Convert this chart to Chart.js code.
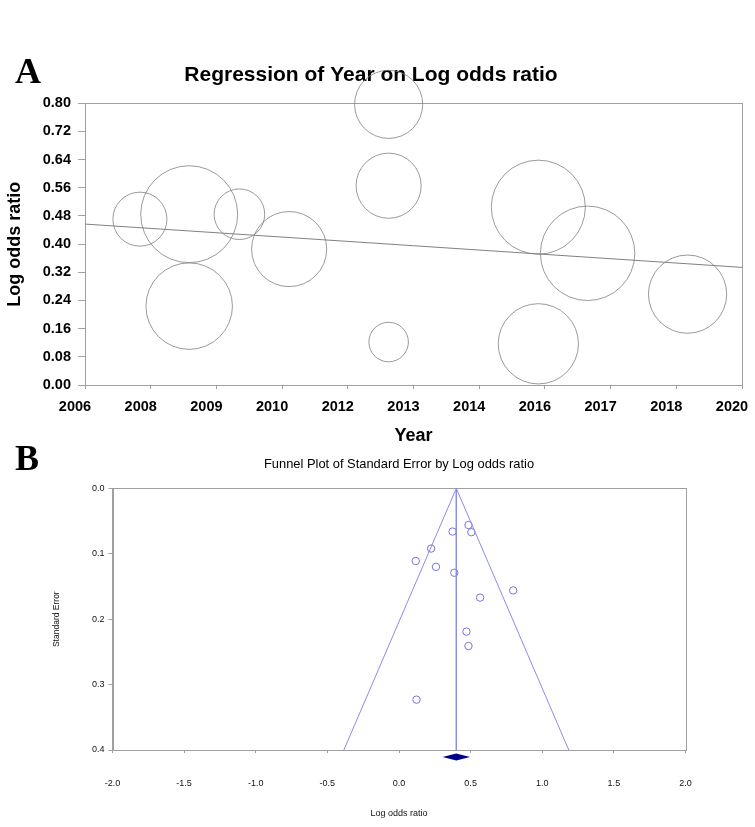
<!DOCTYPE html>
<html>
<head>
<meta charset="utf-8">
<script src="https://cdn.jsdelivr.net/npm/chart.js@4.4.1/dist/chart.umd.min.js"></script>
<style>
  body { margin: 0; background: #fff; overflow: hidden; }
  #wrap { position: relative; width: 755px; height: 827px; overflow: hidden; }
  canvas { position: absolute; left: 0; }
  #regChart { top: 0; }
  #funnelChart { top: 450px; }
  .panel {
    position: absolute; left: 15px;
    font: bold 36px "Liberation Serif", "Times New Roman", serif;
    color: #000;
  }
</style>
</head>
<body>
<div id="wrap">
  <canvas id="regChart" width="755" height="450"></canvas>
  <canvas id="funnelChart" width="798" height="377"></canvas>
  <div class="panel" style="top:50px">A</div>
  <div class="panel" style="top:437px">B</div>
</div>
<script>
// исследования (по порядку года)
const years   = [2007.17, 2008.22, 2008.22, 2009.29, 2010.35, 2012.47, 2012.47, 2012.47, 2015.66, 2015.66, 2016.71, 2018.84];
const logOR   = [0.471, 0.485, 0.224, 0.485, 0.386, 0.797, 0.566, 0.122, 0.505, 0.117, 0.374, 0.258];
const stdErr  = [0.219, 0.056, 0.092, 0.241, 0.129, 0.156, 0.167, 0.323, 0.067, 0.111, 0.066, 0.120];
const weights = [7.3, 23.5, 18.7, 6.4, 14.1, 11.6, 10.6, 3.9, 22.1, 16.1, 22.3, 15.3];

// регрессия и оси
const regX = [2006, 2020];
const regY = [0.457, 0.334];
const xTickLabels = ['2006', '2008', '2009', '2010', '2012', '2013', '2014', '2016', '2017', '2018', '2020'];
const yTicksA = [0, 0.08, 0.16, 0.24, 0.32, 0.40, 0.48, 0.56, 0.64, 0.72, 0.80];

// воронка
const pooled = 0.40;
const pooledCI = [0.304, 0.496];
const funnelX = [-0.385, 0.40, 1.185];
const funnelY = [0.4, 0, 0.4];
const xTicksB = [-2, -1.5, -1, -0.5, 0, 0.5, 1, 1.5, 2];
const yTicksB = [0, 0.1, 0.2, 0.3, 0.4];

const SANS = '"Liberation Sans", Arial, sans-serif';
const AXIS = '#a0a0a0';

const boxPlugin = {
  id: 'box',
  beforeDatasetsDraw(chart) {
    const { ctx, chartArea: a } = chart;
    ctx.save();
    ctx.strokeStyle = AXIS;
    ctx.lineWidth = 1;
    ctx.strokeRect(Math.round(a.left) + 0.5, Math.round(a.top) + 0.5,
                   Math.round(a.right - a.left), Math.round(a.bottom - a.top));
    ctx.restore();
  }
};

// A: регрессия
new Chart(document.getElementById('regChart'), {
  type: 'bubble',
  data: {
    datasets: [{
      data: years.map((x, i) => ({ x, y: logOR[i], r: Math.sqrt(weights[i]) * 10 })),
      borderColor: '#808080',
      borderWidth: 0.8,
      backgroundColor: 'rgba(0,0,0,0)',
      clip: false
    }, {
      type: 'line',
      data: regX.map((x, i) => ({ x, y: regY[i] })),
      borderColor: '#808080',
      borderWidth: 1,
      pointRadius: 0,
      fill: false
    }]
  },
  options: {
    responsive: false,
    animation: false,
    layout: { autoPadding: false, padding: { left: 0, right: 13, top: 0, bottom: 0 } },
    plugins: {
      legend: { display: false },
      tooltip: { enabled: false },
      title: {
        display: true,
        text: 'Regression of Year on Log odds ratio',
        color: '#000',
        font: { family: SANS, size: 21, weight: 'bold' },
        padding: { top: 62.4, bottom: 15.7 }
      }
    },
    scales: {
      x: {
        type: 'linear', min: 2006, max: 2020,
        afterBuildTicks: s => { s.ticks = xTickLabels.map((l, i) => ({ value: 2006 + i * 1.4 })); },
        afterFit: s => { s.height = 65; s.paddingLeft = 0; s.paddingRight = 0; },
        grid: { drawOnChartArea: false, tickLength: 4, color: AXIS },
        border: { color: AXIS },
        ticks: {
          callback: (v, i) => xTickLabels[i],
          color: '#000', padding: 9, maxRotation: 0, labelOffset: -10,
          font: { family: SANS, size: 14.5, weight: 'bold' }
        },
        title: {
          display: true, text: 'Year', color: '#000',
          font: { family: SANS, size: 18, weight: 'bold' },
          padding: { top: 0, bottom: 3.2 }
        }
      },
      y: {
        min: 0, max: 0.8,
        afterBuildTicks: s => { s.ticks = yTicksA.map(v => ({ value: v })); },
        afterFit: s => { s.width = 85; },
        grid: { drawOnChartArea: false, tickLength: 7, color: AXIS },
        border: { color: AXIS },
        ticks: {
          callback: v => v.toFixed(2),
          color: '#000', padding: 7,
          font: { family: SANS, size: 14.5, weight: 'bold' }
        },
        title: {
          display: true, text: 'Log odds ratio', color: '#000',
          font: { family: SANS, size: 18, weight: 'bold' },
          padding: { top: 4, bottom: 0 }
        }
      }
    }
  },
  plugins: [boxPlugin]
});

// B: воронка
const diamondPlugin = {
  id: 'diamond',
  afterDatasetsDraw(chart) {
    const { ctx, chartArea: a, scales: { x } } = chart;
    const cx = x.getPixelForValue(pooled);
    const l = x.getPixelForValue(pooledCI[0]);
    const r = x.getPixelForValue(pooledCI[1]);
    const cy = a.bottom + 7;
    ctx.save();
    ctx.fillStyle = '#00008b';
    ctx.beginPath();
    ctx.moveTo(l, cy);
    ctx.lineTo(cx, cy - 3.5);
    ctx.lineTo(r, cy);
    ctx.lineTo(cx, cy + 3.5);
    ctx.closePath();
    ctx.fill();
    ctx.restore();
  }
};

const FUNNEL = '#8c8ce6';

new Chart(document.getElementById('funnelChart'), {
  type: 'scatter',
  data: {
    datasets: [{
      type: 'line',
      data: funnelX.map((x, i) => ({ x, y: funnelY[i] })),
      borderColor: FUNNEL, borderWidth: 1, pointRadius: 0, fill: false
    }, {
      type: 'line',
      data: [{ x: pooled, y: 0 }, { x: pooled, y: 0.4 }],
      borderColor: FUNNEL, borderWidth: 1, pointRadius: 0, fill: false
    }, {
      data: logOR.map((x, i) => ({ x, y: stdErr[i] })),
      pointRadius: 3.7,
      pointStyle: 'circle',
      borderColor: '#7474dc',
      borderWidth: 1,
      backgroundColor: 'rgba(0,0,0,0)'
    }]
  },
  options: {
    responsive: false,
    animation: false,
    layout: { autoPadding: false, padding: 0 },
    plugins: {
      legend: { display: false },
      tooltip: { enabled: false },
      title: {
        display: true,
        text: 'Funnel Plot of Standard Error by Log odds ratio',
        color: '#000',
        font: { family: SANS, size: 12.9, weight: 'normal' },
        padding: { top: 7.2, bottom: 15.7 }
      }
    },
    scales: {
      x: {
        min: -2, max: 2,
        afterBuildTicks: s => { s.ticks = xTicksB.map(v => ({ value: v })); },
        afterFit: s => { s.height = 77; },
        grid: { drawOnChartArea: false, tickLength: 3, color: AXIS },
        border: { color: AXIS },
        ticks: {
          callback: v => v.toFixed(1),
          color: '#111', padding: 25, maxRotation: 0,
          font: { family: SANS, size: 9 }
        },
        title: {
          display: true, text: 'Log odds ratio', color: '#111',
          font: { family: SANS, size: 9 },
          padding: { top: 0, bottom: 8.3 }
        }
      },
      y: {
        reverse: true, min: 0, max: 0.4,
        afterBuildTicks: s => { s.ticks = yTicksB.map(v => ({ value: v })); },
        afterFit: s => { s.width = 112.5; },
        grid: { drawOnChartArea: false, tickLength: 4, color: AXIS },
        border: { color: AXIS },
        ticks: {
          callback: v => v.toFixed(1),
          color: '#111', padding: 4,
          font: { family: SANS, size: 9 }
        },
        title: {
          display: true, text: 'Standard Error', color: '#111',
          font: { family: SANS, size: 8.5 },
          padding: { top: 51.6, bottom: 0 }
        }
      },
      // пустая правая ось, чтобы заголовок встал по центру области графика
      yRight: {
        position: 'right', min: 0, max: 0.4,
        afterFit: s => { s.width = 112.5; },
        grid: { display: false },
        border: { display: false },
        ticks: { display: false }
      }
    }
  },
  plugins: [boxPlugin, diamondPlugin]
});
</script>
</body>
</html>
